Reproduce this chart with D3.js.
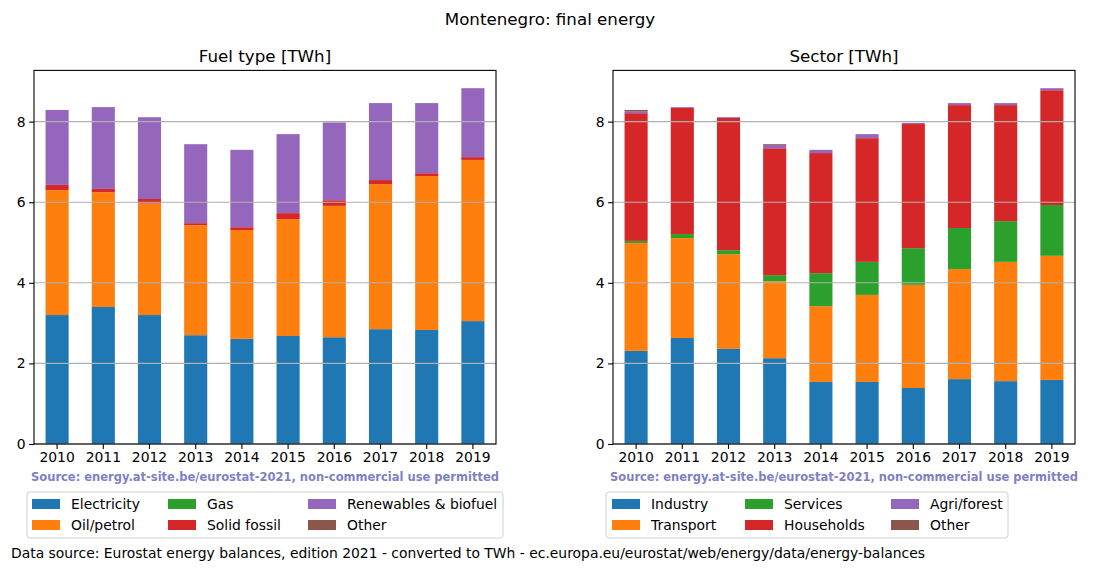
<!DOCTYPE html>
<html>
<head>
<meta charset="utf-8">
<script src="https://cdn.jsdelivr.net/npm/d3@7"></script>
<style>
  html, body { margin: 0; padding: 0; background: #fff; }
  svg { display: block; font-family: "DejaVu Sans", sans-serif; }
</style>
</head>
<body>
<svg id="chart" width="1100" height="572"></svg>
<script>
// ---------- DATA ----------
const years = ["2010","2011","2012","2013","2014","2015","2016","2017","2018","2019"];
const yTicks = [0, 2, 4, 6, 8];

const fuelNames = ["Electricity", "Oil/petrol", "Gas", "Solid fossil", "Renewables & biofuel", "Other"];
const electricity = [3.20, 3.40, 3.20, 2.70, 2.61, 2.68, 2.65, 2.85, 2.83, 3.05];
const oilPetrol   = [3.10, 2.85, 2.77, 2.73, 2.70, 2.90, 3.26, 3.60, 3.82, 4.00];
const gas         = [0, 0, 0, 0, 0, 0, 0, 0, 0, 0];
const solidFossil = [0.13, 0.08, 0.11, 0.05, 0.07, 0.15, 0.14, 0.10, 0.07, 0.07];
const renewables  = [1.86, 2.03, 2.03, 1.96, 1.92, 1.96, 1.93, 1.91, 1.74, 1.71];
const fuelOther   = [0, 0, 0, 0, 0, 0, 0, 0, 0, 0];

const sectorNames = ["Industry", "Transport", "Services", "Households", "Agri/forest", "Other"];
const industry    = [2.31, 2.63, 2.36, 2.13, 1.54, 1.54, 1.39, 1.61, 1.56, 1.59];
const transport   = [2.68, 2.48, 2.35, 1.91, 1.88, 2.16, 2.56, 2.73, 2.96, 3.08];
const services    = [0.05, 0.10, 0.10, 0.15, 0.82, 0.82, 0.91, 1.02, 1.01, 1.26];
const households  = [3.17, 3.13, 3.28, 3.15, 2.98, 3.07, 3.08, 3.05, 2.88, 2.85];
const agriForest  = [0.05, 0.02, 0.02, 0.08, 0.08, 0.10, 0.03, 0.05, 0.05, 0.05];
const sectorOther = [0.03, 0, 0, 0.02, 0, 0, 0, 0, 0, 0];

const colors = ["#1f77b4", "#ff7f0e", "#2ca02c", "#d62728", "#9467bd", "#8c564b"];

// ---------- DRAW ----------
const svg = d3.select("#chart");

svg.append("text").attr("x", 550).attr("y", 25).attr("text-anchor", "middle")
  .attr("font-size", 16.7).text("Montenegro: final energy");

function buildTable(names, seriesArr) {
  return years.map((yr, i) => {
    const row = { year: yr };
    names.forEach((n, k) => row[n] = seriesArr[k][i]);
    return row;
  });
}

function panel(opts) {
  const { x0, x1, y0, y1, title, names, series, legend } = opts;
  const table = buildTable(names, series);
  const totals = table.map(r => d3.sum(names, n => r[n]));
  const yMax = d3.max(totals) * 1.05;

  const x = d3.scaleBand().domain(years).range([x0, x1]).paddingInner(0.5).paddingOuter(0.25);
  const y = d3.scaleLinear().domain([0, yMax]).range([y1, y0]);

  const stack = d3.stack().keys(names)(table);
  const g = svg.append("g");

  stack.forEach((layer, k) => {
    g.append("g").attr("fill", colors[k]).selectAll("rect").data(layer).join("rect")
      .attr("x", d => x(d.data.year))
      .attr("width", x.bandwidth())
      .attr("y", d => y(d[1]))
      .attr("height", d => Math.max(0, y(d[0]) - y(d[1])));
  });

  // grid on top
  g.append("g").selectAll("line").data(yTicks).join("line")
    .attr("x1", x0).attr("x2", x1)
    .attr("y1", d => y(d)).attr("y2", d => y(d))
    .attr("stroke", "#b0b0b0").attr("stroke-width", 1.1);

  // axes
  const yAxis = d3.axisLeft(y).tickValues(yTicks).tickSize(4.9).tickPadding(3.5).tickFormat(d3.format("d"));
  const ya = g.append("g").attr("transform", `translate(${x0},0)`).call(yAxis);
  const xAxis = d3.axisBottom(x).tickSize(4.9).tickPadding(3.5);
  const xa = g.append("g").attr("transform", `translate(0,${y1})`).call(xAxis);
  [ya, xa].forEach(a => {
    a.select(".domain").remove();
    a.selectAll("text").attr("font-size", 13.9).attr("font-family", "DejaVu Sans").attr("fill", "#000");
    a.selectAll("line").attr("stroke", "#000").attr("stroke-width", 1.1);
  });

  g.append("rect").attr("x", x0).attr("y", y0).attr("width", x1 - x0).attr("height", y1 - y0)
    .attr("fill", "none").attr("stroke", "#000").attr("stroke-width", 1.1);

  g.append("text").attr("x", (x0 + x1) / 2).attr("y", y0 - 8).attr("text-anchor", "middle")
    .attr("font-size", 16.7).text(title);

  g.append("text").attr("x", (x0 + x1) / 2).attr("y", 481).attr("text-anchor", "middle")
    .attr("font-size", 11.5).attr("font-weight", "bold").attr("fill", "#7f7fc4")
    .text("Source: energy.at-site.be/eurostat-2021, non-commercial use permitted");

  // legend
  const lg = svg.append("g");
  lg.append("rect").attr("x", legend.x).attr("y", 492).attr("width", legend.w).attr("height", 46)
    .attr("rx", 3).attr("fill", "#fff").attr("stroke", "#d0d0d0").attr("stroke-width", 1);
  names.forEach((n, k) => {
    const col = Math.floor(k / 2), row = k % 2;
    const px = legend.cols[col];
    const py = 499 + row * 21;
    lg.append("rect").attr("x", px).attr("y", py).attr("width", 28).attr("height", 10).attr("fill", colors[k]);
    lg.append("text").attr("x", px + 39).attr("y", py + 10).attr("font-size", 13.9).text(n);
  });
}

panel({ x0: 34, x1: 496, y0: 70.4, y1: 444, title: "Fuel type [TWh]",
  names: fuelNames, series: [electricity, oilPetrol, gas, solidFossil, renewables, fuelOther],
  legend: { x: 27, w: 476, cols: [32, 168, 308] } });

panel({ x0: 613, x1: 1075, y0: 70.4, y1: 444, title: "Sector [TWh]",
  names: sectorNames, series: [industry, transport, services, households, agriForest, sectorOther],
  legend: { x: 606, w: 402, cols: [612, 745, 891] } });

svg.append("text").attr("x", 11).attr("y", 558).attr("font-size", 13.9)
  .text("Data source: Eurostat energy balances, edition 2021 - converted to TWh - ec.europa.eu/eurostat/web/energy/data/energy-balances");
</script>
</body>
</html>
